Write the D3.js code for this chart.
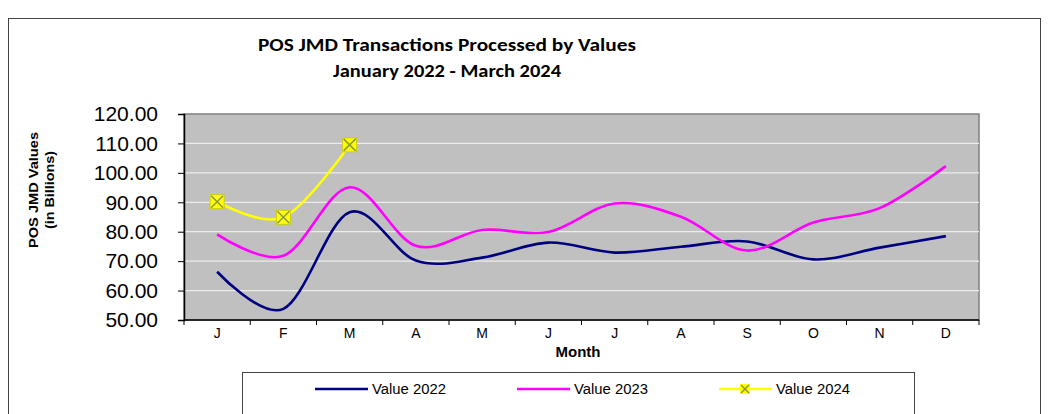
<!DOCTYPE html>
<html>
<head>
<meta charset="utf-8">
<script src="https://cdn.jsdelivr.net/npm/d3@7"></script>
<style>
  body { margin: 0; background: #fff; }
  svg { display: block; font-family: "Liberation Sans", Arial, sans-serif; }
</style>
</head>
<body>
<svg id="chart" width="1052" height="414"></svg>
<script>
// data
var months = ["J", "F", "M", "A", "M", "J", "J", "A", "S", "O", "N", "D"];
var yTicks = [50, 60, 70, 80, 90, 100, 110, 120];
var value2022 = [66.4, 53.8, 86.6, 70.2, 71.2, 76.3, 72.9, 74.9, 76.7, 70.6, 74.6, 78.5];
var value2023 = [79.1, 71.8, 95.1, 75.2, 80.6, 79.9, 89.6, 85.1, 73.6, 83.1, 88.0, 102.3];
var value2024 = [90.2, 84.9, 109.5];

var series = [
    {name: "Value 2022", values: value2022, color: "#000080"},
    {name: "Value 2023", values: value2023, color: "#ff00ff"},
    {name: "Value 2024", values: value2024, color: "#ffff00", marker: true}
];

var svg = d3.select("#chart");
var plot = {left: 184, right: 979, top: 114, bottom: 320};

// outer frame
svg.append("rect")
    .attr("x", 8.5).attr("y", 18.5)
    .attr("width", 1032).attr("height", 420)
    .attr("fill", "none").attr("stroke", "#444").attr("stroke-width", 1);

// title
var title = svg.append("g")
    .attr("font-family", "Carlito, 'Liberation Sans Narrow', 'Liberation Sans', sans-serif")
    .attr("font-weight", "bold")
    .attr("font-size", 17)
    .attr("text-anchor", "middle")
    .attr("fill", "#000");
title.append("text").attr("x", 447).attr("y", 51)
    .attr("textLength", 378).attr("lengthAdjust", "spacingAndGlyphs")
    .text("POS JMD Transactions Processed by Values");
title.append("text").attr("x", 447).attr("y", 77)
    .attr("textLength", 228).attr("lengthAdjust", "spacingAndGlyphs")
    .text("January 2022 - March 2024");

var x = d3.scaleBand()
    .domain(d3.range(months.length))
    .range([plot.left, plot.right]);

var y = d3.scaleLinear()
    .domain([50, 120])
    .range([plot.bottom, plot.top]);

// plot area
svg.append("rect")
    .attr("x", plot.left).attr("y", plot.top)
    .attr("width", plot.right - plot.left).attr("height", plot.bottom - plot.top)
    .attr("fill", "#c0c0c0")
    .attr("stroke", "#808080").attr("stroke-width", 1.5);

// grid
svg.append("g")
    .selectAll("line")
    .data(yTicks.slice(1, -1))
    .enter().append("line")
    .attr("x1", plot.left).attr("x2", plot.right)
    .attr("y1", function(d) { return y(d); })
    .attr("y2", function(d) { return y(d); })
    .attr("stroke", "#ececec").attr("stroke-width", 1.2);

// y axis
var yAxis = svg.append("g")
    .attr("transform", "translate(" + plot.left + ",0)")
    .call(d3.axisLeft(y).tickValues(yTicks).tickFormat(d3.format(".2f")).tickSize(6).tickPadding(20));
yAxis.select(".domain").attr("stroke", "#000").attr("stroke-width", 1.5);
yAxis.selectAll(".tick line").attr("stroke", "#000");
yAxis.selectAll("text")
    .attr("font-size", 21)
    .attr("font-family", "'Liberation Sans', Arial, sans-serif")
    .attr("fill", "#000");

// x axis: ticks at band boundaries
var xAxis = svg.append("g").attr("transform", "translate(0," + plot.bottom + ")");
xAxis.append("line")
    .attr("x1", plot.left).attr("x2", plot.right)
    .attr("stroke", "#000").attr("stroke-width", 1.5);
xAxis.selectAll(".xt")
    .data(d3.range(months.length + 1))
    .enter().append("line")
    .attr("class", "xt")
    .attr("x1", function(i) { return plot.left + i * x.step(); })
    .attr("x2", function(i) { return plot.left + i * x.step(); })
    .attr("y1", 0).attr("y2", 5)
    .attr("stroke", "#000");
xAxis.selectAll("text")
    .data(months)
    .enter().append("text")
    .attr("x", function(d, i) { return x(i) + x.bandwidth() / 2; })
    .attr("y", 18)
    .attr("text-anchor", "middle")
    .attr("font-size", 14)
    .text(function(d) { return d; });

svg.append("text")
    .attr("x", 578).attr("y", 357)
    .attr("text-anchor", "middle")
    .attr("font-size", 15).attr("font-weight", "bold")
    .text("Month");

// y title
var yt = svg.append("g")
    .attr("transform", "translate(38,190) rotate(-90)")
    .attr("text-anchor", "middle")
    .attr("font-size", 13.5).attr("font-weight", "bold");
yt.append("text").attr("x", 0).attr("y", 0)
    .attr("textLength", 116).attr("lengthAdjust", "spacingAndGlyphs")
    .text("POS JMD Values");
yt.append("text").attr("x", 0).attr("y", 16)
    .attr("textLength", 78).attr("lengthAdjust", "spacingAndGlyphs")
    .text("(in Billions)");

// lines
var line = d3.line()
    .x(function(d, i) { return x(i) + x.bandwidth() / 2; })
    .y(function(d) { return y(d); })
    .curve(d3.curveCardinal.tension(0));

series.forEach(function(s) {
    svg.append("path")
        .datum(s.values)
        .attr("d", line)
        .attr("fill", "none")
        .attr("stroke", s.color)
        .attr("stroke-width", 2.6);
});

function drawMarker(g, cx, cy) {
    g.append("rect")
        .attr("x", cx - 7).attr("y", cy - 7)
        .attr("width", 14).attr("height", 14)
        .attr("fill", "#ffff00").attr("stroke", "#c8c800").attr("stroke-width", 0.8);
    g.append("path")
        .attr("d", "M" + (cx - 6) + "," + (cy - 6) + "L" + (cx + 6) + "," + (cy + 6) +
                   "M" + (cx + 6) + "," + (cy - 6) + "L" + (cx - 6) + "," + (cy + 6))
        .attr("stroke", "#8a9a3c").attr("stroke-width", 1.5);
}

var mk = svg.append("g");
value2024.forEach(function(v, i) {
    drawMarker(mk, x(i) + x.bandwidth() / 2, y(v));
});

// legend
svg.append("rect")
    .attr("x", 242.5).attr("y", 372.5)
    .attr("width", 672).attr("height", 48)
    .attr("fill", "#fff").attr("stroke", "#444");

var legendX = [315, 517, 719];
var lg = svg.append("g")
    .selectAll("g")
    .data(series)
    .enter().append("g")
    .attr("transform", function(d, i) { return "translate(" + legendX[i] + ",389)"; });
lg.append("line")
    .attr("x1", 0).attr("x2", 53)
    .attr("stroke", function(d) { return d.color; })
    .attr("stroke-width", 2.6);
lg.append("text")
    .attr("x", 57).attr("y", 0).attr("dy", "0.35em")
    .attr("font-size", 14)
    .attr("textLength", 74).attr("lengthAdjust", "spacingAndGlyphs")
    .text(function(d) { return d.name; });
lg.filter(function(d) { return d.marker; }).each(function() {
    var g = d3.select(this);
    g.append("rect").attr("x", 21).attr("y", -5).attr("width", 10).attr("height", 10)
        .attr("fill", "#ffff00");
    g.append("path").attr("d", "M22,-4L30,4M30,-4L22,4")
        .attr("stroke", "#8a9a3c").attr("stroke-width", 1.5);
});
</script>
</body>
</html>
